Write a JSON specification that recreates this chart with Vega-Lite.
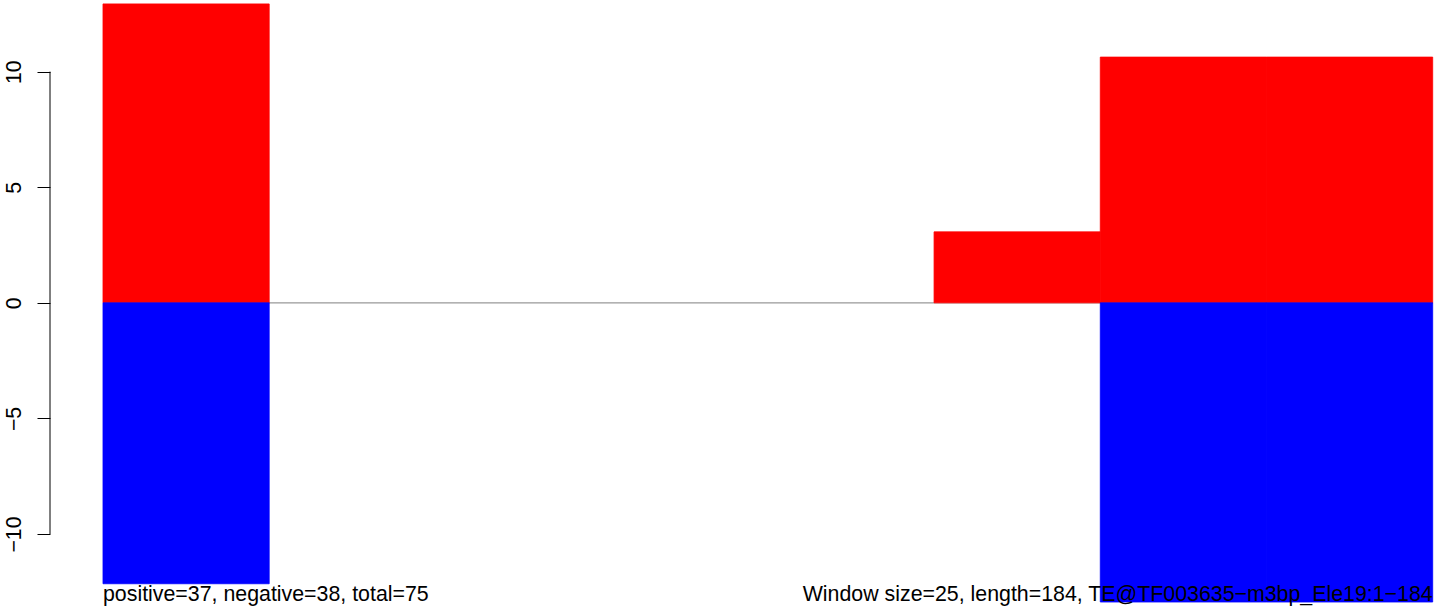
{
  "$schema": "https://vega.github.io/schema/vega-lite/v6.json",
  "autosize": "none",
  "padding": {"left": 50, "top": 0, "right": 0, "bottom": 0},
  "width": 1394,
  "height": 613,
  "background": "white",
  "config": {"view": {"stroke": null}},
  "datasets": {
    "windows": [
      {"from": 0, "to": 25, "pos": 12.93, "neg": -12.15},
      {"from": 25, "to": 50, "pos": 0, "neg": 0},
      {"from": 50, "to": 75, "pos": 0, "neg": 0},
      {"from": 75, "to": 100, "pos": 0, "neg": 0},
      {"from": 100, "to": 125, "pos": 0, "neg": 0},
      {"from": 125, "to": 150, "pos": 3.07, "neg": 0},
      {"from": 150, "to": 175, "pos": 10.63, "neg": -12.94},
      {"from": 175, "to": 200, "pos": 10.63, "neg": -12.94}
    ]
  },
  "layer": [
    {
      "data": {"values": [{"y": 0}]},
      "mark": {"type": "rule", "color": "#999999", "strokeWidth": 1.3},
      "encoding": {
        "y": {"field": "y", "type": "quantitative",
          "scale": {"domain": [-13.415, 13.099], "nice": false, "zero": false},
          "axis": {"values": [-10, -5, 0, 5, 10], "grid": false, "domain": false,
            "tickColor": "black", "tickSize": 13, "tickWidth": 1,
            "labelAngle": -90, "labelAlign": "center", "labelBaseline": "alphabetic",
            "labelPadding": 17, "labelFont": "Liberation Sans", "labelFontSize": 21.3,
            "labelColor": "black", "title": null}},
        "x": {"datum": 0, "type": "quantitative",
          "scale": {"domain": [-7.97, 201.7], "nice": false, "zero": false}, "axis": null},
        "x2": {"datum": 200}
      }
    },
    {
      "data": {"name": "windows"},
      "transform": [{"filter": "datum.pos > 0"}],
      "mark": {"type": "bar", "color": "#ff0000", "stroke": "#ff0000", "strokeWidth": 0.8},
      "encoding": {
        "x": {"field": "from", "type": "quantitative"},
        "x2": {"field": "to"},
        "y": {"field": "pos", "type": "quantitative"},
        "y2": {"datum": 0}
      }
    },
    {
      "data": {"name": "windows"},
      "transform": [{"filter": "datum.neg < 0"}],
      "mark": {"type": "bar", "color": "#0000ff", "stroke": "#0000ff", "strokeWidth": 0.8},
      "encoding": {
        "x": {"field": "from", "type": "quantitative"},
        "x2": {"field": "to"},
        "y": {"field": "neg", "type": "quantitative"},
        "y2": {"datum": 0}
      }
    },
    {
      "data": {"values": [{"label": "positive=37, negative=38, total=75"}]},
      "mark": {"type": "text", "align": "left", "baseline": "alphabetic", "font": "Liberation Sans", "fontSize": 21.35, "color": "black"},
      "encoding": {
        "x": {"datum": 0, "type": "quantitative"},
        "y": {"datum": -12.9, "type": "quantitative"},
        "text": {"field": "label"}
      }
    },
    {
      "data": {"values": [{"label": "Window size=25, length=184, TE@TF003635−m3bp_Ele19:1−184"}]},
      "mark": {"type": "text", "align": "right", "baseline": "alphabetic", "font": "Liberation Sans", "fontSize": 21.35, "color": "black"},
      "encoding": {
        "x": {"datum": 200, "type": "quantitative"},
        "y": {"datum": -12.9, "type": "quantitative"},
        "text": {"field": "label"}
      }
    },
    {
      "data": {"values": [{"y": -10, "y2": 10}]},
      "mark": {"type": "rule", "color": "black", "strokeWidth": 1},
      "encoding": {
        "x": {"datum": -7.97, "type": "quantitative"},
        "y": {"field": "y", "type": "quantitative"},
        "y2": {"field": "y2"}
      }
    }
  ]
}
